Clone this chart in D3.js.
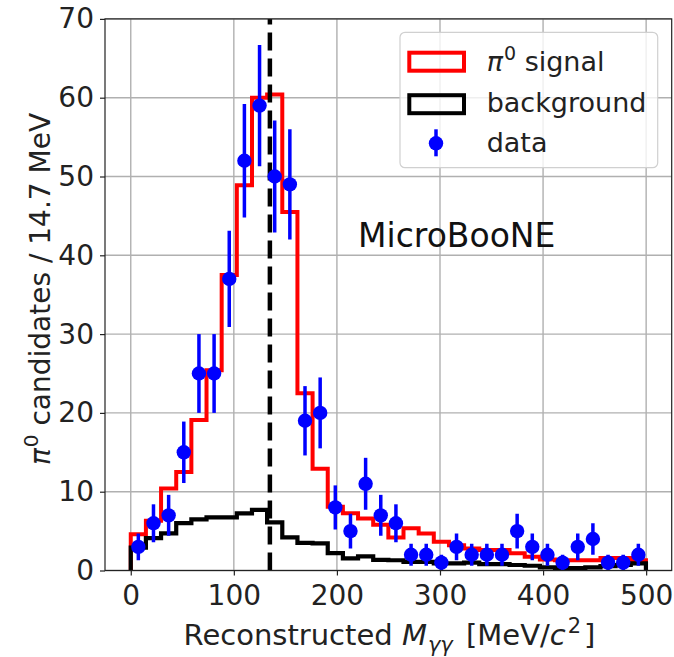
<!DOCTYPE html>
<html>
<head>
<meta charset="utf-8">
<script src="https://cdn.jsdelivr.net/npm/d3@7"></script>
<style>
  body { margin: 0; background: #fff; }
  svg { font-family: "DejaVu Sans", sans-serif; }
</style>
</head>
<body>
<svg id="chart" width="674" height="657"></svg>
<script>
// bins: 34 bins of 14.7 MeV from 0
const binWidth = 14.7
const nBins = 34
const piMass = 134.97

// data counts per bin, with stat errors
const dataCounts = [3, 6, 7, 15, 25, 25, 37, 52, 59, 50, 49, 19, 20, 8, 5, 11, 7, 6, 2, 2, 1, 3, 2, 2, 2, 5, 3, 2, 1, 3, 4, 1, 1, 2]
const dataErrors = [1.7, 2.4, 2.6, 3.9, 5, 5, 6.1, 7.2, 7.7, 7.1, 7, 4.4, 4.5, 2.8, 2.2, 3.3, 2.6, 2.4, 1.4, 1.4, 1, 1.7, 1.4, 1.4, 1.4, 2.2, 1.7, 1.4, 1, 1.7, 2, 1, 1, 1.4]

// pi0 signal (red step) and background (black step)
const signalVals = [4.6, 6.3, 10.4, 12.5, 19.1, 25.4, 37.5, 48.9, 60.0, 60.4, 45.5, 22.5, 12.9, 8.1, 7.25, 6.6, 5.8, 4.2, 5.35, 4.7, 3.65, 3.2, 2.8, 2.6, 2.6, 2.2, 1.75, 1.4, 1.3, 1.3, 1.3, 1.6, 1.6, 1.3]
const backgroundVals = [2.9, 4.1, 4.7, 6.0, 6.5, 6.75, 6.75, 7.25, 7.7, 6.1, 4.2, 3.5, 3.45, 2.2, 1.55, 1.8, 1.35, 1.3, 1.1, 1.1, 0.9, 0.9, 1.0, 0.8, 0.8, 0.7, 0.6, 0.4, 0.3, 0.3, 0.4, 0.55, 0.7, 0.9]

const xTicks = [0, 100, 200, 300, 400, 500]
const yTicks = [0, 10, 20, 30, 40, 50, 60, 70]

const edges = d3.range(nBins + 1).map(i => i * binWidth)
const centers = d3.range(nBins).map(i => (i + 0.5) * binWidth)

const svg = d3.select("#chart")
const pLeft = 105, pRight = 671.7, pTop = 18.9, pBottom = 570.5

const x = d3.scaleLinear().domain([-24.99, 524.79]).range([pLeft, pRight])
const y = d3.scaleLinear().domain([0, 70]).range([pBottom, pTop])

svg.append("defs").append("clipPath").attr("id", "clip")
    .append("rect")
    .attr("x", pLeft).attr("y", pTop)
    .attr("width", pRight - pLeft).attr("height", pBottom - pTop)

// grid
const grid = svg.append("g")
grid.selectAll(".gx").data(xTicks).enter().append("line")
    .attr("x1", d => x(d)).attr("x2", d => x(d))
    .attr("y1", pTop).attr("y2", pBottom)
    .attr("stroke", "#b0b0b0").attr("stroke-width", 1.4)
grid.selectAll(".gy").data(yTicks).enter().append("line")
    .attr("x1", pLeft).attr("x2", pRight)
    .attr("y1", d => y(d)).attr("y2", d => y(d))
    .attr("stroke", "#b0b0b0").attr("stroke-width", 1.4)

// step histogram outline
function stepPoints(vals) {
    const pts = [[edges[0], 0]]
    vals.forEach((v, i) => {
        pts.push([edges[i], v])
        pts.push([edges[i + 1], v])
    })
    pts.push([edges[vals.length], 0])
    return pts
}
const line = d3.line().x(d => x(d[0])).y(d => y(d[1]))

const plot = svg.append("g").attr("clip-path", "url(#clip)")

plot.append("path")
    .attr("d", line(stepPoints(signalVals)))
    .attr("fill", "none")
    .attr("stroke", "#ff0000")
    .attr("stroke-width", 4)

plot.append("path")
    .attr("d", line(stepPoints(backgroundVals)))
    .attr("fill", "none")
    .attr("stroke", "#000")
    .attr("stroke-width", 4.2)

// pi0 mass line
plot.append("line")
    .attr("x1", x(piMass)).attr("x2", x(piMass))
    .attr("y1", pBottom).attr("y2", pTop)
    .attr("stroke", "#000")
    .attr("stroke-width", 4.5)
    .attr("stroke-dasharray", "18,8")

// data points with error bars
const pts = plot.selectAll(".pt")
    .data(dataCounts.map((c, i) => ({x: centers[i], v: c, e: dataErrors[i]})))
    .enter().append("g")
pts.append("line")
    .attr("x1", d => x(d.x)).attr("x2", d => x(d.x))
    .attr("y1", d => y(d.v - d.e)).attr("y2", d => y(d.v + d.e))
    .attr("stroke", "#0000ff")
    .attr("stroke-width", 3.5)
pts.append("circle")
    .attr("cx", d => x(d.x)).attr("cy", d => y(d.v))
    .attr("r", 7.2)
    .attr("fill", "#0000ff")

// axes
svg.append("g")
    .attr("transform", `translate(0,${pBottom})`)
    .call(d3.axisBottom(x).tickValues(xTicks).tickSize(5).tickPadding(10).tickSizeOuter(0))
svg.append("g")
    .attr("transform", `translate(${pLeft},0)`)
    .call(d3.axisLeft(y).tickValues(yTicks).tickSize(5).tickPadding(6).tickSizeOuter(0))
svg.selectAll(".domain").remove()
svg.selectAll(".tick line").attr("stroke", "#222").attr("stroke-width", 1.2)
svg.selectAll(".tick text")
    .attr("font-size", "28px")
    .attr("font-family", "DejaVu Sans")
    .attr("fill", "#222")

// frame
svg.append("rect")
    .attr("x", pLeft).attr("y", pTop)
    .attr("width", pRight - pLeft).attr("height", pBottom - pTop)
    .attr("fill", "none")
    .attr("stroke", "#222")
    .attr("stroke-width", 1.2)

// axis labels
const xl = svg.append("text")
    .attr("x", 389.5).attr("y", 645)
    .attr("text-anchor", "middle")
    .attr("font-size", "29px")
    .attr("fill", "#222")
xl.append("tspan").text("Reconstructed ")
xl.append("tspan").attr("font-style", "italic").text("M")
xl.append("tspan").attr("font-style", "italic").attr("font-size", "21px").attr("dy", 7).attr("dx", 1).text("γγ")
xl.append("tspan").attr("dy", -7).attr("dx", 4).text(" [MeV/")
xl.append("tspan").attr("font-style", "italic").text("c")
xl.append("tspan").attr("font-size", "21px").attr("dy", -12).attr("dx", 2).text("2")
xl.append("tspan").attr("dy", 12).attr("dx", 3).text("]")

const yl = svg.append("text")
    .attr("transform", `translate(50,289) rotate(-90)`)
    .attr("text-anchor", "middle")
    .attr("font-size", "28px")
    .attr("fill", "#222")
yl.append("tspan").attr("font-style", "italic").text("π")
yl.append("tspan").attr("font-size", "20px").attr("dy", -12).attr("dx", 1).text("0")
yl.append("tspan").attr("dy", 12).text(" candidates / 14.7 MeV")

// experiment tag
svg.append("text")
    .attr("x", 358).attr("y", 247.3)
    .attr("font-size", "33px")
    .attr("fill", "#111")
    .text("MicroBooNE")

// legend
const legend = svg.append("g")
legend.append("rect")
    .attr("x", 400).attr("y", 32.3)
    .attr("width", 257.7).attr("height", 135.4)
    .attr("rx", 5)
    .attr("fill", "#fff").attr("fill-opacity", 0.8)
    .attr("stroke", "#d0d0d0").attr("stroke-width", 1.2)

const legendRows = [61.7, 104.2, 143.3]
legend.append("rect")
    .attr("x", 409.3).attr("y", legendRows[0] - 9)
    .attr("width", 54.7).attr("height", 18)
    .attr("fill", "none").attr("stroke", "#ff0000").attr("stroke-width", 4)
legend.append("rect")
    .attr("x", 409.3).attr("y", legendRows[1] - 9)
    .attr("width", 54.7).attr("height", 18)
    .attr("fill", "none").attr("stroke", "#000").attr("stroke-width", 4)
legend.append("line")
    .attr("x1", 436).attr("x2", 436)
    .attr("y1", legendRows[2] - 14).attr("y2", legendRows[2] + 13)
    .attr("stroke", "#0000ff").attr("stroke-width", 3.5)
legend.append("circle")
    .attr("cx", 436).attr("cy", legendRows[2]).attr("r", 7.2)
    .attr("fill", "#0000ff")

const lt0 = legend.append("text")
    .attr("x", 486.7).attr("y", legendRows[0] + 9)
    .attr("font-size", "27px").attr("fill", "#222")
lt0.append("tspan").attr("font-style", "italic").text("π")
lt0.append("tspan").attr("font-size", "19px").attr("dy", -11).attr("dx", 1).text("0")
lt0.append("tspan").attr("dy", 11).text(" signal")
legend.append("text")
    .attr("x", 486.7).attr("y", legendRows[1] + 8)
    .attr("font-size", "27px").attr("fill", "#222")
    .text("background")
legend.append("text")
    .attr("x", 486.7).attr("y", legendRows[2] + 9)
    .attr("font-size", "27px").attr("fill", "#222")
    .text("data")
</script>
</body>
</html>
